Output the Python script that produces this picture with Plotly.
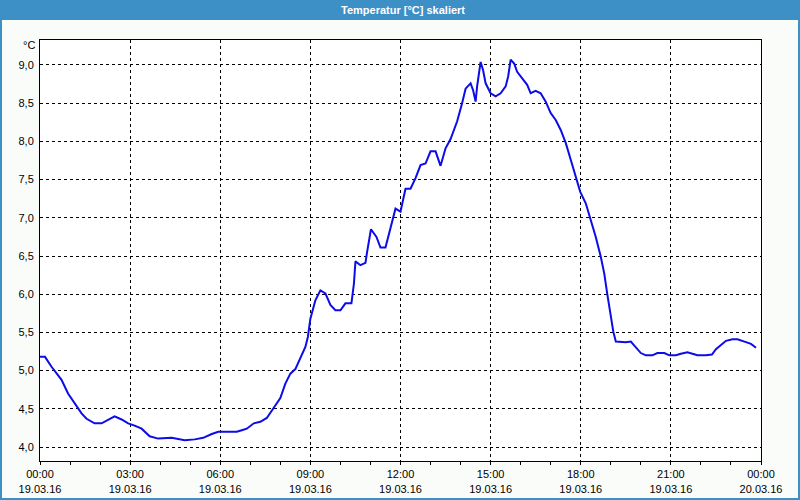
import plotly.graph_objects as go

# ---- data ----
day = "2016-03-19"
times = ["00:00","00:10","00:23","00:33","00:43","00:56","01:09","01:23","01:33","01:49",
         "02:03","02:16","02:29","02:43","02:56","03:09","03:23","03:39","03:56","04:23",
         "04:36","04:49","05:09","05:26","05:43","05:56","06:16","06:33","06:43","06:53",
         "07:07","07:20","07:33","07:47","08:00","08:10","08:20","08:30","08:40","08:50",
         "08:55","09:00","09:10","09:20","09:30","09:40","09:50","10:00","10:10","10:22",
         "10:27","10:30","10:40","10:50","10:53","11:01","11:12","11:20","11:30","11:40",
         "11:50","12:00","12:10","12:20","12:30","12:40","12:50","13:00","13:10","13:20",
         "13:30","13:40","13:53","14:03","14:10","14:20","14:25","14:30","14:33","14:40",
         "14:45","14:50","15:00","15:10","15:20","15:30","15:35","15:40","15:47","15:53",
         "16:03","16:13","16:20","16:30","16:40","16:50","17:00","17:10","17:20","17:30",
         "17:40","17:50","17:59","18:10","18:20","18:30","18:40","18:47","18:53","19:00",
         "19:05","19:10","19:20","19:30","19:40","19:50","20:00","20:10","20:23","20:33",
         "20:47","20:57","21:10","21:20","21:33","21:43","21:53","22:10","22:22","22:30",
         "22:40","22:50","23:03","23:13","23:27","23:40","23:50"]
temps = [5.18,5.18,5.05,4.96,4.88,4.70,4.57,4.44,4.37,4.31,
         4.31,4.35,4.40,4.36,4.31,4.28,4.24,4.14,4.11,4.12,
         4.10,4.09,4.10,4.12,4.17,4.20,4.20,4.20,4.22,4.24,
         4.31,4.33,4.38,4.51,4.64,4.83,4.96,5.02,5.16,5.31,
         5.44,5.68,5.92,6.05,6.01,5.86,5.79,5.79,5.88,5.88,
         6.14,6.43,6.38,6.41,6.54,6.85,6.75,6.61,6.61,6.88,
         7.12,7.08,7.38,7.38,7.52,7.69,7.71,7.87,7.87,7.68,
         7.91,8.03,8.26,8.50,8.69,8.76,8.67,8.52,8.72,9.04,
         8.93,8.76,8.63,8.59,8.63,8.72,8.85,9.07,9.02,8.91,
         8.83,8.74,8.63,8.66,8.63,8.52,8.37,8.28,8.15,7.98,
         7.76,7.54,7.34,7.19,6.97,6.75,6.49,6.27,6.00,5.71,
         5.51,5.38,5.37,5.37,5.38,5.31,5.23,5.20,5.20,5.23,
         5.23,5.20,5.20,5.22,5.24,5.22,5.20,5.20,5.21,5.28,
         5.34,5.39,5.41,5.41,5.38,5.35,5.30]

x_tick_vals = ["2016-03-19 00:00","2016-03-19 03:00","2016-03-19 06:00","2016-03-19 09:00",
               "2016-03-19 12:00","2016-03-19 15:00","2016-03-19 18:00","2016-03-19 21:00",
               "2016-03-20 00:00"]
x_tick_text = ["00:00<br>19.03.16","03:00<br>19.03.16","06:00<br>19.03.16","09:00<br>19.03.16",
               "12:00<br>19.03.16","15:00<br>19.03.16","18:00<br>19.03.16","21:00<br>19.03.16",
               "00:00<br>20.03.16"]
y_tick_vals = [4.0,4.5,5.0,5.5,6.0,6.5,7.0,7.5,8.0,8.5,9.0]
y_tick_text = ["4,0","4,5","5,0","5,5","6,0","6,5","7,0","7,5","8,0","8,5","9,0"]
title_text = "Temperatur [°C] skaliert"
unit_text = "°C"

x = [f"{day} {t}" for t in times]

FONT = "Liberation Sans"
fig = go.Figure()
fig.add_trace(go.Scatter(x=x, y=temps, mode="lines",
                         line=dict(color="#0c0ce8", width=2), hoverinfo="skip"))

# layout geometry (pixels)
W, H = 800, 500
L, R, T, B = 40, 39, 40, 39
pw, ph = W - L - R, H - T - B

def px(p):  # pixel x -> paper x
    return (p - L) / pw

def py(p):  # pixel y -> paper y
    return (H - B - p) / ph

blue = "#3d90c6"
shapes = [
    dict(type="rect", xref="paper", yref="paper", x0=px(0), x1=px(W), y0=py(20), y1=py(0),
         fillcolor=blue, line=dict(width=0), layer="below"),
    dict(type="rect", xref="paper", yref="paper", x0=px(0), x1=px(2), y0=py(H), y1=py(20),
         fillcolor=blue, line=dict(width=0), layer="below"),
    dict(type="rect", xref="paper", yref="paper", x0=px(W - 2), x1=px(W), y0=py(H), y1=py(20),
         fillcolor=blue, line=dict(width=0), layer="below"),
    dict(type="rect", xref="paper", yref="paper", x0=px(0), x1=px(W), y0=py(H), y1=py(H - 2),
         fillcolor=blue, line=dict(width=0), layer="below"),
]

fig.update_layout(
    width=W, height=H,
    margin=dict(l=L, r=R, t=T, b=B, autoexpand=False),
    paper_bgcolor="#fafcfa", plot_bgcolor="white",
    showlegend=False,
    shapes=shapes,
    font=dict(family=FONT, size=11, color="black"),
    annotations=[
        dict(text=f"<b>{title_text}</b>", xref="paper", yref="paper", x=px(403), y=py(10),
             xanchor="center", yanchor="middle", showarrow=False,
             font=dict(family=FONT, size=11, color="white")),
        dict(text=unit_text, xref="paper", yref="paper", x=px(37), y=py(45),
             xanchor="right", yanchor="middle", showarrow=False,
             font=dict(family=FONT, size=11, color="black")),
    ],
)

fig.update_xaxes(
    type="date", range=["2016-03-19 00:00", "2016-03-20 00:00"],
    tickmode="array", tickvals=x_tick_vals, ticktext=x_tick_text,
    showline=True, linecolor="black", linewidth=1, mirror=True,
    showgrid=True, gridcolor="black", gridwidth=1, griddash="3px,3px",
    ticks="outside", ticklen=3, tickcolor="black", tickwidth=1,
    minor=dict(dtick=3600000, tick0="2016-03-19 00:00", ticks="outside", ticklen=3,
               tickcolor="black", showgrid=False),
    tickfont=dict(family=FONT, size=11, color="black"),
    zeroline=False, fixedrange=True, automargin=False,
)
fig.update_yaxes(
    range=[3.817, 9.327],
    tickmode="array", tickvals=y_tick_vals, ticktext=y_tick_text,
    showline=True, linecolor="black", linewidth=1, mirror=True,
    showgrid=True, gridcolor="black", gridwidth=1, griddash="3px,3px",
    ticks="", ticklabelstandoff=3,
    tickfont=dict(family=FONT, size=11, color="black"),
    zeroline=False, fixedrange=True, automargin=False,
)

fig.write_html("out.html", config={"displayModeBar": False})
